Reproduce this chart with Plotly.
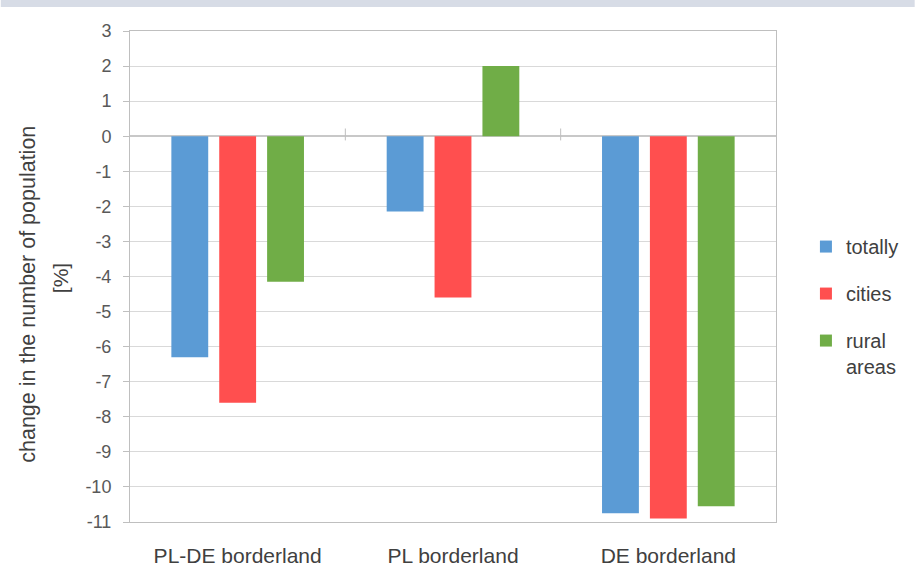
import plotly.graph_objects as go

categories = ["PL-DE borderland", "PL borderland", "DE borderland"]
series_names = ["totally", "cities", "rural<br>areas"]
totally = [-6.3, -2.15, -10.75]
cities = [-7.6, -4.6, -10.9]
rural = [-4.15, 2.0, -10.55]
colors = ["#5b9bd5", "#ff4f4f", "#70ad47"]
y_ticks = list(range(3, -12, -1))
y_ticktext = [str(v) for v in y_ticks]  # hyphen minus, as in the reference

# the photographed viewport appears a bit taller than 574; design in that space
S = 579 / 574
W, H = 916, 579

def sy(p):
    return p * S

ML, MR, MT, MB = 129.5, 139, sy(31), H - sy(521)
PW, PH = W - ML - MR, H - MT - MB

def px_x(p):
    return (p - ML) / PW

def px_y(p):
    return (H - MB - sy(p)) / PH

fig = go.Figure()
for i, (name, vals) in enumerate(zip(series_names, [totally, cities, rural])):
    fig.add_trace(go.Bar(
        x=categories, y=vals, name=name, marker_color=colors[i],
        marker_line_width=0, legendgroup=f"g{i}",
    ))

# category boundary ticks on the zero line
for xb in [0.5, 1.5]:
    fig.add_shape(type="line", xref="x", yref="y", x0=xb, x1=xb, y0=-0.12, y1=0.22,
                  line=dict(color="#bfbfbf", width=1))

# top band
fig.add_shape(type="rect", xref="paper", yref="paper", x0=px_x(0), x1=px_x(W),
              y0=px_y(7), y1=px_y(-2), fillcolor="#d7dce6", line_width=0, layer="below")

# y axis title (two lines)
fig.add_annotation(text="change in the number of population", xref="paper", yref="paper",
                   x=px_x(27), y=px_y(293.5), textangle=-90, showarrow=False,
                   font=dict(size=21.5, color="#404040"), xanchor="center", yanchor="middle")
fig.add_annotation(text="[%]", xref="paper", yref="paper",
                   x=px_x(60), y=px_y(278), textangle=-90, showarrow=False,
                   font=dict(size=21, color="#404040"), xanchor="center", yanchor="middle")

fig.update_layout(
    width=W, height=H,
    margin=dict(l=ML, r=MR, t=MT, b=MB),
    paper_bgcolor="white", plot_bgcolor="white",
    barmode="group", bargap=0.333, bargroupgap=0.23,
    font=dict(family="Liberation Sans, Arial, sans-serif", color="#404040"),
    showlegend=True,
    legend=dict(x=px_x(807), xanchor="left", y=px_y(306), yanchor="middle",
                traceorder="grouped", tracegroupgap=18, valign="top",
                font=dict(size=20, color="#404040"), itemwidth=30),
    xaxis=dict(
        showline=True, linecolor="#bfbfbf", mirror=True, linewidth=1,
        showgrid=False, ticks="", tickfont=dict(size=21, color="#404040"),
        ticklabelstandoff=15, range=[-0.5, 2.5],
    ),
    yaxis=dict(
        range=[-11, 3], tickvals=y_ticks, ticktext=y_ticktext,
        showgrid=True, gridcolor="#d9d9d9",
        showline=True, linecolor="#bfbfbf", mirror=True, linewidth=1,
        ticks="outside", ticklen=6, tickcolor="#bfbfbf",
        tickfont=dict(size=18, color="#595959"), ticklabelstandoff=8,
        zeroline=True, zerolinecolor="#c8c8c8", zerolinewidth=1.5,
    ),
)

post = (
    "document.documentElement.style.margin='0';"
    "document.documentElement.style.overflow='hidden';"
    "document.body.style.margin='0';document.body.style.padding='0';"
    "document.body.style.overflow='hidden';"
)
fig.write_html("out.html", config={"displayModeBar": False}, post_script=post)
